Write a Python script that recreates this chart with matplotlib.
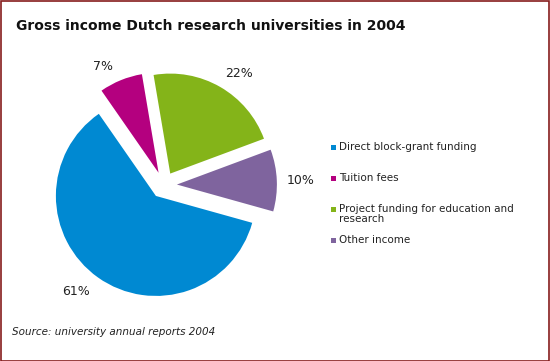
import matplotlib
matplotlib.use('Agg')
import matplotlib.pyplot as plt
from matplotlib.patches import Rectangle

# Data
categories = ['Direct block-grant funding', 'Tuition fees',
              'Project funding for education and\nresearch', 'Other income']
shares = [61, 7, 22, 10]
colors = ['#0089d2', '#b4007f', '#84b419', '#7f649e']
explode = [0.133, 0.133, 0.133, 0.133]
# small nudges (px) so the % labels sit where Excel put them
label_nudge = [(-10, -3), (-10, 6), (8, 5), (3, 1)]

W, H = 550, 361
fig = plt.figure(figsize=(W / 100, H / 100), dpi=100)
fig.patch.set_facecolor('white')

# pie: radius 100 px
cx, cy = 163.6, 185.1
ax = fig.add_axes([(cx - 150) / W, (H - cy - 150) / H, 300 / W, 300 / H])
ax.axis('off')
wedges, texts, autotexts = ax.pie(
    shares, colors=colors, explode=explode, startangle=-15.6,
    counterclock=False, autopct='%d%%', pctdistance=1.21,
    wedgeprops=dict(linewidth=0), textprops=dict(fontsize=9, color='#222222'))
ax.set_xlim(-1.5, 1.5)
ax.set_ylim(-1.5, 1.5)
ax.set_aspect('equal')
for t, (dx, dy) in zip(autotexts, label_nudge):
    x, y = t.get_position()
    t.set_position((x + dx / 100, y - dy / 100))

# title
fig.text(16 / W, 1 - 26 / H, 'Gross income Dutch research universities in 2004',
         fontsize=10, fontweight='bold', va='center', ha='left', color='#111111')

# legend
y = 147
for cat, col in zip(categories, colors):
    fig.patches.append(Rectangle((331 / W, 1 - (y + 3) / H), 5 / W, 5 / H,
                                 transform=fig.transFigure, facecolor=col,
                                 edgecolor='none', figure=fig))
    if '\n' in cat:
        fig.text(339 / W, 1 - (y - 5) / H, cat, fontsize=7.5, va='top',
                 ha='left', color='#222222', linespacing=1.05)
    else:
        fig.text(339 / W, 1 - y / H, cat, fontsize=7.5, va='center',
                 ha='left', color='#222222')
    y += 31

# source
fig.text(12 / W, 1 - 332 / H, 'Source: university annual reports 2004',
         fontsize=7.5, style='italic', va='center', ha='left', color='#222222')

# border
fig.patches.append(Rectangle((0.5 / W, 0.5 / H), 1 - 1.5 / W, 1 - 1.5 / H,
                             transform=fig.transFigure, facecolor='none',
                             edgecolor='#861c1c', linewidth=1.2, figure=fig))

fig.savefig('out.png', dpi=100)
